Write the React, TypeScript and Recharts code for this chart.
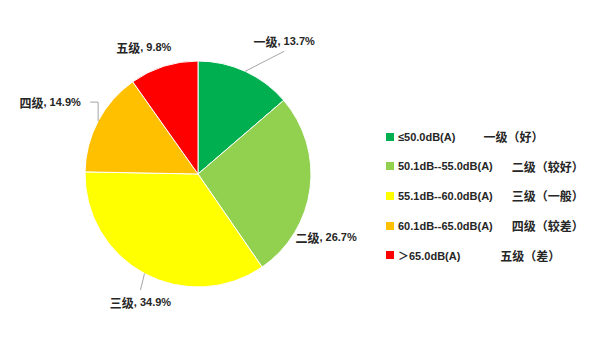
import React from 'react';
import { PieChart, Pie, Cell, Legend } from 'recharts';

const categories = ['一级', '二级', '三级', '四级', '五级'];
const shares = [13.7, 26.7, 34.9, 14.9, 9.8];
const colors = ['#00B050', '#92D050', '#FFFF00', '#FFC000', '#FF0000'];
const legendRanges = [
  '≤50.0dB(A)',
  '50.1dB--55.0dB(A)',
  '55.1dB--60.0dB(A)',
  '60.1dB--65.0dB(A)',
  '＞65.0dB(A)',
];
const legendGrades = ['一级（好）', '二级（较好）', '三级（一般）', '四级（较差）', '五级（差）'];
const legendGaps = [28, 19, 19, 19, 40];

// label placement relative to the slice's outer mid-point
const labelOffsets: [number, number][] = [
  [39, -30],
  [16, 48],
  [-4, 28.5],
  [-48, -19],
  [-20, -19],
];
const leaderKinds = ['diag', 'none', 'diag', 'elbow', 'none'];

const data = categories.map((name, i) => ({ name, value: shares[i] }));

const RAD = Math.PI / 180;

const renderLabel = (props: any) => {
  const { cx, cy, midAngle, outerRadius, index } = props;
  const ex = cx + outerRadius * Math.cos(-midAngle * RAD);
  const ey = cy + outerRadius * Math.sin(-midAngle * RAD);
  const [dx, dy] = labelOffsets[index];
  const lx = ex + dx;
  const ly = ey + dy;
  const kind = leaderKinds[index];
  let line: React.ReactNode = null;
  if (kind === 'diag') {
    const ty = dy < 0 ? ly + 10 : ly - 12;
    line = <line x1={ex} y1={ey} x2={lx} y2={ty} stroke="#A6A6A6" strokeWidth={1} />;
  } else if (kind === 'elbow') {
    line = (
      <polyline
        points={`${ex},${ey} ${ex},${ly} ${lx + 40},${ly}`}
        fill="none"
        stroke="#A6A6A6"
        strokeWidth={1}
      />
    );
  }
  return (
    <g key={`lab-${index}`}>
      {line}
      <text
        x={lx}
        y={ly}
        textAnchor="middle"
        dominantBaseline="central"
        fill="#262626"
        fontWeight="bold"
        fontFamily="'Liberation Sans', 'Noto Sans CJK SC', sans-serif"
      >
        <tspan fontSize={12} fontFamily="'Noto Sans CJK SC', sans-serif">{categories[index]}</tspan>
        <tspan fontSize={11}>{`, ${shares[index].toFixed(1)}%`}</tspan>
      </text>
    </g>
  );
};

const renderLegend = () => (
  <div
    style={{
      fontFamily: "'Liberation Sans', 'Noto Sans CJK SC', sans-serif",
      color: '#262626',
      fontWeight: 'bold',
    }}
  >
    {legendRanges.map((r, i) => (
      <div key={i} style={{ height: 29.6, display: 'flex', alignItems: 'center', whiteSpace: 'nowrap' }}>
        <span style={{ width: 8, height: 8, background: colors[i], display: 'inline-block', marginRight: 4 }} />
        <span style={{ fontSize: 11 }}>{r}</span>
        <span style={{ fontSize: 12, marginLeft: legendGaps[i], fontFamily: "'Noto Sans CJK SC', sans-serif" }}>
          {legendGrades[i]}
        </span>
      </div>
    ))}
  </div>
);

export default function App() {
  return (
    <div style={{ position: 'absolute', left: 0, top: 0, width: 612, height: 339, background: '#fff' }}>
      <PieChart width={612} height={339} margin={{ top: 0, right: 0, bottom: 0, left: 0 }}>
        <Pie
          data={data}
          dataKey="value"
          nameKey="name"
          cx={198}
          cy={174}
          outerRadius={113}
          startAngle={90}
          endAngle={-270}
          stroke="#ffffff"
          strokeWidth={1}
          label={renderLabel}
          labelLine={false}
          isAnimationActive={false}
        >
          {data.map((d, i) => (
            <Cell key={d.name} fill={colors[i]} />
          ))}
        </Pie>
        <Legend
          layout="vertical"
          verticalAlign="middle"
          align="right"
          content={renderLegend}
          wrapperStyle={{ left: 386, top: 122, width: 230 }}
        />
      </PieChart>
    </div>
  );
}
